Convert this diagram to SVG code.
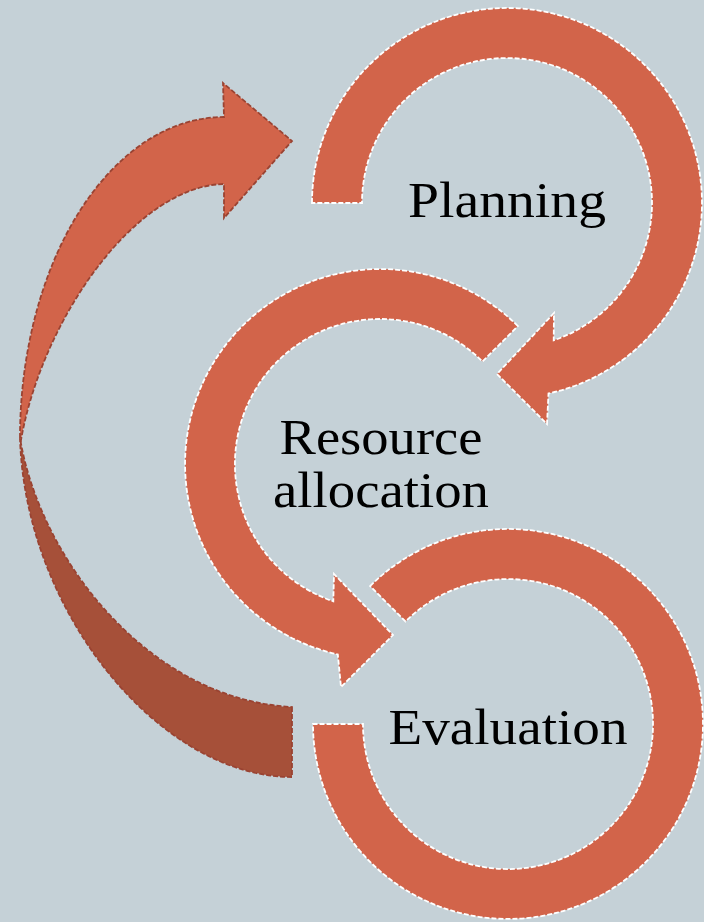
<svg xmlns="http://www.w3.org/2000/svg" width="704" height="922" viewBox="0 0 704 922">
<style>
.ring{fill:#D2644A;stroke:#FFFFFF;stroke-width:1.8;stroke-dasharray:5 2;stroke-linejoin:miter}
.big{stroke:#9A4332;stroke-width:1.8;stroke-dasharray:5 2;stroke-linejoin:miter}
.lbl{font-family:"Liberation Serif","DejaVu Serif",serif;font-size:50px;fill:#000000;text-anchor:middle}
</style>
<rect x="0" y="0" width="704" height="922" fill="#C5D1D7"/>
<g id="connectors">
<g id="return-arrow">
<path class="big" fill="#A65039" d="M292,707 L292,777 C160,777 25,612 20,438 C40,560 150,700 292,707 Z"/>
<path class="big" fill="#D2644A" d="M20,438 A204,321 0 0 1 224,117 L223,83 L292,141 L224,218 L224,184 C135,186 42,320 21,440 Z"/>
</g>
</g>
<g id="node-planning">
<path class="ring" d="M312,203 A195,195 0 1 1 548.5,393.5 L547,424 L497,374 L554,313 L553.7,340.3 A145,145 0 1 0 362,203 Z"/>
<text class="lbl" x="507" y="217" textLength="198" lengthAdjust="spacingAndGlyphs">Planning</text>
</g>
<g id="node-resource">
<path class="ring" d="M517.9,326.1 A195,195 0 1 0 337.8,654.4 L341,687 L393,635 L334,574 L333.3,601.3 A145,145 0 1 1 482.5,361.5 Z"/>
<text class="lbl" x="381" y="454" textLength="203" lengthAdjust="spacingAndGlyphs">Resource</text>
<text class="lbl" x="381" y="507" textLength="216" lengthAdjust="spacingAndGlyphs">allocation</text>
</g>
<g id="node-evaluation">
<path class="ring" d="M370.1,586.1 A195,195 0 1 1 313,724 L363,724 A145,145 0 1 0 405.5,621.5 Z"/>
<text class="lbl" x="508" y="744" textLength="239" lengthAdjust="spacingAndGlyphs">Evaluation</text>
</g>
</svg>
